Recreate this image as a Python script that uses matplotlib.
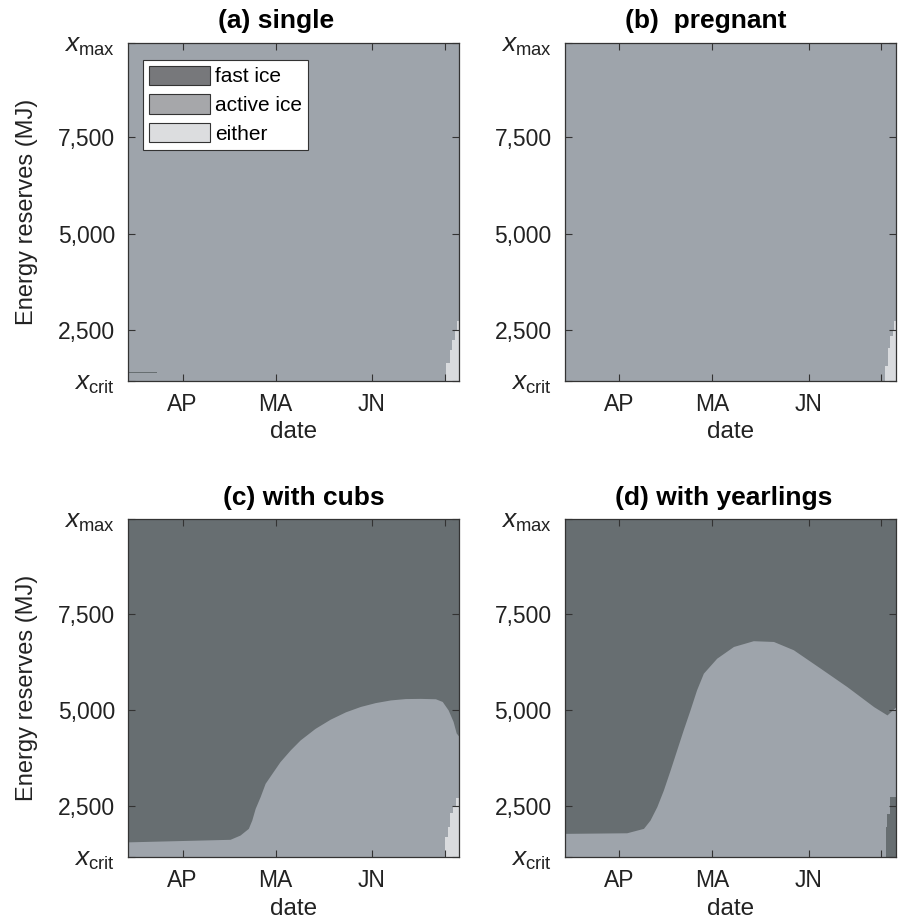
import matplotlib
matplotlib.use('Agg')
import matplotlib.pyplot as plt
from matplotlib.patches import Patch

plt.rcParams['font.family'] = ['Liberation Sans', 'DejaVu Sans']
plt.rcParams['mathtext.fontset'] = 'custom'
plt.rcParams['mathtext.rm'] = 'Liberation Sans'
plt.rcParams['mathtext.it'] = 'Liberation Sans:italic'

# colours of the decision map and of the legend boxes
FAST = '#676e71'
ACTIVE = '#9ea4ab'
EITHER = '#d9dbde'
LEG_COLORS = ['#77787b', '#a6a7aa', '#dcdddf']
LEG_LABELS = ['fast ice', 'active ice', 'either']

titles = ['(a) single', '(b)  pregnant', '(c) with cubs', '(d) with yearlings']

# date axis (day of year)
day_lim = (73.5, 180.2)
month_ticks = [91, 121, 152, 175.5]
month_labels = ['AP', 'MA', 'JN', '']

# energy axis (MJ)
x_crit = 1175
x_max = 9965
energy_ticks = [x_crit, 2500, 5000, 7500, x_max]
energy_labels = [r'$x_{\mathrm{crit}}$', '2,500', '5,000', '7,500', r'$x_{\mathrm{max}}$']

# boundary fast ice (above) / active ice (below)
day_c = [73.5, 74.0, 106.3, 109.5, 112.2, 113.3, 114.4, 116.0, 117.6, 119.8, 122.4,
         125.7, 128.9, 133.7, 138.6, 143.5, 148.3, 153.1, 158.0, 162.8, 167.6,
         172.5, 174.7, 176.6, 178.2, 179.2, 180.2]
fast_c = [1570, 1570, 1635, 1745, 1920, 2135, 2440, 2745, 3090, 3350, 3655,
          3960, 4220, 4520, 4760, 4950, 5090, 5190, 5260, 5295, 5300,
          5290, 5220, 5000, 4700, 4400, 4300]

day_d = [73.5, 74.0, 93.4, 98.8, 100.9, 103.1, 105.2, 107.4, 109.5, 111.6, 113.8,
         115.9, 118.1, 122.4, 127.8, 134.2, 140.7, 147.1, 155.8, 164.4, 173.0,
         177.3, 180.2]
fast_d = [1790, 1790, 1805, 1920, 2135, 2485, 2915, 3440, 3960, 4480, 5000,
          5520, 5955, 6345, 6650, 6800, 6780, 6565, 6085, 5605, 5085,
          4870, 5085]

# small fast-ice sliver in (a)
sliver_day_a = [73.5, 82.7]
sliver_lo_a = 1370
sliver_hi_a = 1410

# stepped patches at the bottom right: energy level and first day of the patch
either_e_a = [x_crit, 1640, 1980, 2240, 2500, 2716]
either_d_a = [176.0, 177.3, 177.8, 178.9, 179.5, 179.5]
either_e_b = [x_crit, 1546, 2024, 2326, 2500, 2716]
either_d_b = [176.5, 177.5, 178.3, 179.2, 179.7, 179.7]
either_e_c = [x_crit, 1700, 1960, 2318, 2500, 2708]
either_d_c = [175.7, 176.6, 177.3, 178.1, 179.2, 179.2]
fastcorner_e_d = [x_crit, 1960, 2300, 2743]
fastcorner_d_d = [177.0, 177.4, 178.3, 179.0]

fig = plt.figure(figsize=(9.01, 9.23), dpi=100)
W, H = 901, 923
boxes = [(128.3, 42.7), (565, 42.7), (128.3, 519), (565, 519)]
axes = []
for (l, t) in boxes:
    axes.append(fig.add_axes([l / W, 1 - (t + 338) / H, 331 / W, 338 / H]))

for i, ax in enumerate(axes):
    if i < 2:
        ax.set_facecolor(ACTIVE)
    else:
        ax.set_facecolor(FAST)

ax = axes[0]
ax.fill_between(sliver_day_a, sliver_lo_a, sliver_hi_a, color=FAST, lw=0)
ax.fill_betweenx(either_e_a, either_d_a, day_lim[1], step='post', color=EITHER, lw=0)

ax = axes[1]
ax.fill_betweenx(either_e_b, either_d_b, day_lim[1], step='post', color=EITHER, lw=0)

ax = axes[2]
ax.fill_between(day_c, x_crit, fast_c, color=ACTIVE, lw=0)
ax.fill_betweenx(either_e_c, either_d_c, day_lim[1], step='post', color=EITHER, lw=0)

ax = axes[3]
ax.fill_between(day_d, x_crit, fast_d, color=ACTIVE, lw=0)
ax.fill_betweenx(fastcorner_e_d, fastcorner_d_d, day_lim[1], step='post', color=FAST, lw=0)

title_x = [0.446, 0.425, 0.53, 0.48]
for i, ax in enumerate(axes):
    ax.set_xlim(day_lim)
    ax.set_ylim(x_crit, x_max)
    ax.set_xticks(month_ticks)
    ax.set_xticklabels(month_labels)
    ax.set_yticks(energy_ticks)
    ax.set_yticklabels(energy_labels)
    ax.tick_params(direction='in', top=True, right=True, length=5, width=0.8,
                   labelsize=16.5, colors='#333333', labelcolor='#222222')
    ax.tick_params(axis='x', pad=8.5)
    ax.tick_params(axis='y', pad=9.5)
    # the x_crit / x_max labels are drawn a bit larger
    for lab in (ax.get_yticklabels()[0], ax.get_yticklabels()[-1]):
        lab.set_fontsize(19)
    for s in ax.spines.values():
        s.set_color('#333333')
        s.set_linewidth(0.9)
    ax.set_xlabel('date', fontsize=17.5, color='#222222', va='top')
    ax.xaxis.set_label_coords(0.5, -0.12)
    if i % 2 == 0:
        ax.set_ylabel('Energy reserves (MJ)', fontsize=17, color='#222222')
        ax.yaxis.set_label_coords(-0.273, 0.5)
    ax.set_title(titles[i], fontsize=19, fontweight='bold', x=title_x[i], pad=10.4)

handles = [Patch(facecolor=c, edgecolor='#333333', linewidth=0.8) for c in LEG_COLORS]
leg = axes[0].legend(handles, LEG_LABELS, loc='upper left', bbox_to_anchor=(0.0444, 0.9497),
                     borderaxespad=0, fontsize=15, fancybox=False, framealpha=1,
                     edgecolor='#333333', handlelength=2.93, handleheight=1.04,
                     handletextpad=0.24, labelspacing=0.385, borderpad=0.29)
leg.get_frame().set_linewidth(0.8)

fig.savefig('out.png', dpi=100)
